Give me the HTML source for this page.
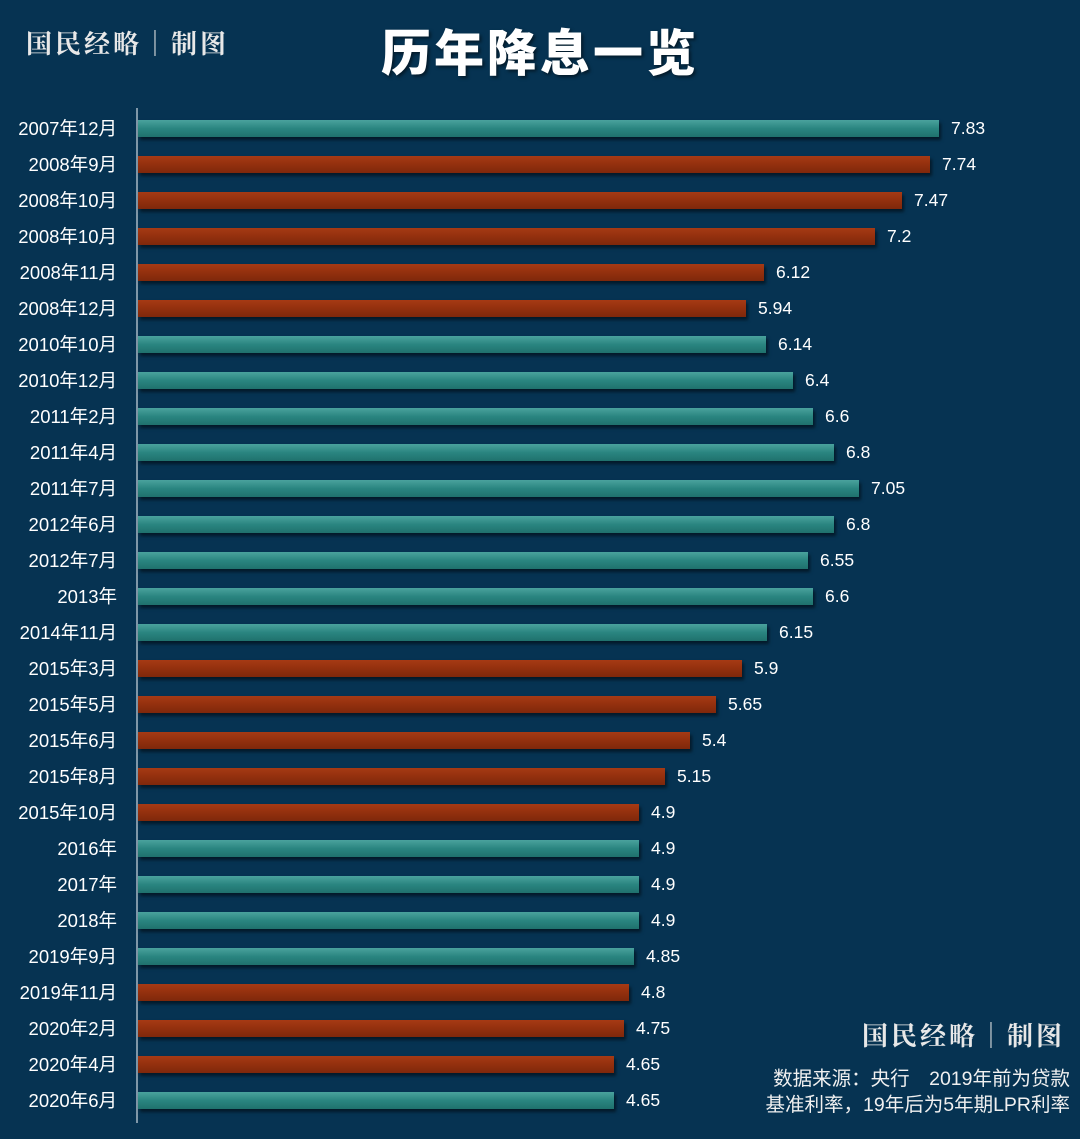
<!DOCTYPE html>
<html><head><meta charset="utf-8"><style>
body{margin:0;width:1080px;height:1139px;background:#063352;position:relative;overflow:hidden;font-family:"Liberation Sans","Noto Sans CJK SC",sans-serif;color:#fff}
.t{position:absolute;left:0;width:1080px;top:14px;text-align:center;font:900 50px "Noto Sans CJK SC",sans-serif;letter-spacing:3px;text-shadow:2px 2px 3px rgba(0,0,0,.5)}
.brand{position:absolute;font:bold 26px "Noto Serif CJK SC",serif;color:#e8e8e8;letter-spacing:3px}
.ax{position:absolute;left:136px;top:108px;width:2px;height:1015px;background:#7f97a8}
.r{position:absolute;left:0;height:36px;width:1080px}
.l{position:absolute;right:963px;top:5px;font-size:18.5px;white-space:nowrap}
.b{position:absolute;left:138px;top:10px;height:17px;box-shadow:2px 3px 3px rgba(0,0,0,.5)}
.g{background:linear-gradient(#4aa29d,#2a8580 50%,#1f716d)}
.o{background:linear-gradient(#a63a14,#93300e 50%,#7e280b)}
.v{position:absolute;top:8px;font-size:17.5px}
.src{position:absolute;right:10px;font-size:19.5px;color:#f0f0f0}
</style></head><body>
<div class="brand" style="left:26px;top:24px">国民经略｜制图</div>
<div class="t">历年降息一览</div>
<div class="ax"></div>
<div style="position:absolute;top:110px;left:0">
<div class="r" style="top:0"><span class="l">2007年12月</span><div class="b g" style="width:801px"></div><span class="v" style="left:951px">7.83</span></div>
<div class="r" style="top:36px"><span class="l">2008年9月</span><div class="b o" style="width:792px"></div><span class="v" style="left:942px">7.74</span></div>
<div class="r" style="top:72px"><span class="l">2008年10月</span><div class="b o" style="width:764px"></div><span class="v" style="left:914px">7.47</span></div>
<div class="r" style="top:108px"><span class="l">2008年10月</span><div class="b o" style="width:737px"></div><span class="v" style="left:887px">7.2</span></div>
<div class="r" style="top:144px"><span class="l">2008年11月</span><div class="b o" style="width:626px"></div><span class="v" style="left:776px">6.12</span></div>
<div class="r" style="top:180px"><span class="l">2008年12月</span><div class="b o" style="width:608px"></div><span class="v" style="left:758px">5.94</span></div>
<div class="r" style="top:216px"><span class="l">2010年10月</span><div class="b g" style="width:628px"></div><span class="v" style="left:778px">6.14</span></div>
<div class="r" style="top:252px"><span class="l">2010年12月</span><div class="b g" style="width:655px"></div><span class="v" style="left:805px">6.4</span></div>
<div class="r" style="top:288px"><span class="l">2011年2月</span><div class="b g" style="width:675px"></div><span class="v" style="left:825px">6.6</span></div>
<div class="r" style="top:324px"><span class="l">2011年4月</span><div class="b g" style="width:696px"></div><span class="v" style="left:846px">6.8</span></div>
<div class="r" style="top:360px"><span class="l">2011年7月</span><div class="b g" style="width:721px"></div><span class="v" style="left:871px">7.05</span></div>
<div class="r" style="top:396px"><span class="l">2012年6月</span><div class="b g" style="width:696px"></div><span class="v" style="left:846px">6.8</span></div>
<div class="r" style="top:432px"><span class="l">2012年7月</span><div class="b g" style="width:670px"></div><span class="v" style="left:820px">6.55</span></div>
<div class="r" style="top:468px"><span class="l">2013年</span><div class="b g" style="width:675px"></div><span class="v" style="left:825px">6.6</span></div>
<div class="r" style="top:504px"><span class="l">2014年11月</span><div class="b g" style="width:629px"></div><span class="v" style="left:779px">6.15</span></div>
<div class="r" style="top:540px"><span class="l">2015年3月</span><div class="b o" style="width:604px"></div><span class="v" style="left:754px">5.9</span></div>
<div class="r" style="top:576px"><span class="l">2015年5月</span><div class="b o" style="width:578px"></div><span class="v" style="left:728px">5.65</span></div>
<div class="r" style="top:612px"><span class="l">2015年6月</span><div class="b o" style="width:552px"></div><span class="v" style="left:702px">5.4</span></div>
<div class="r" style="top:648px"><span class="l">2015年8月</span><div class="b o" style="width:527px"></div><span class="v" style="left:677px">5.15</span></div>
<div class="r" style="top:684px"><span class="l">2015年10月</span><div class="b o" style="width:501px"></div><span class="v" style="left:651px">4.9</span></div>
<div class="r" style="top:720px"><span class="l">2016年</span><div class="b g" style="width:501px"></div><span class="v" style="left:651px">4.9</span></div>
<div class="r" style="top:756px"><span class="l">2017年</span><div class="b g" style="width:501px"></div><span class="v" style="left:651px">4.9</span></div>
<div class="r" style="top:792px"><span class="l">2018年</span><div class="b g" style="width:501px"></div><span class="v" style="left:651px">4.9</span></div>
<div class="r" style="top:828px"><span class="l">2019年9月</span><div class="b g" style="width:496px"></div><span class="v" style="left:646px">4.85</span></div>
<div class="r" style="top:864px"><span class="l">2019年11月</span><div class="b o" style="width:491px"></div><span class="v" style="left:641px">4.8</span></div>
<div class="r" style="top:900px"><span class="l">2020年2月</span><div class="b o" style="width:486px"></div><span class="v" style="left:636px">4.75</span></div>
<div class="r" style="top:936px"><span class="l">2020年4月</span><div class="b o" style="width:476px"></div><span class="v" style="left:626px">4.65</span></div>
<div class="r" style="top:972px"><span class="l">2020年6月</span><div class="b g" style="width:476px"></div><span class="v" style="left:626px">4.65</span></div>
</div>
<div class="brand" style="left:862px;top:1016px">国民经略｜制图</div>
<div class="src" style="top:1062px">数据来源：央行　2019年前为贷款</div>
<div class="src" style="top:1088px">基准利率，19年后为5年期LPR利率</div>
</body></html>
